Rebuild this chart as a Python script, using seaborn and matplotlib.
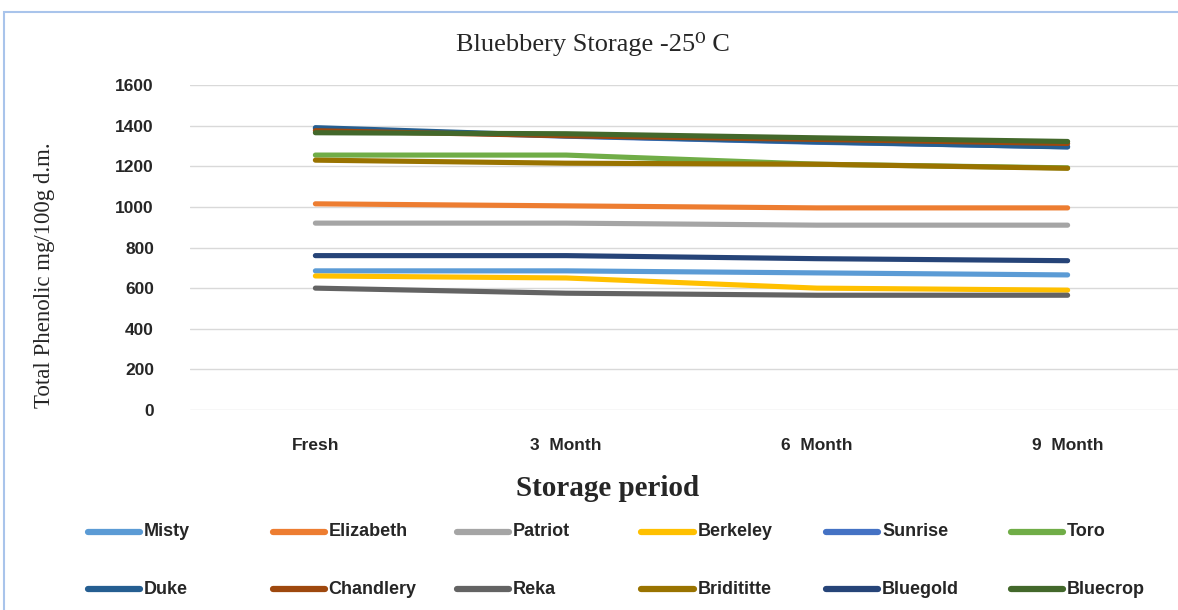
import matplotlib
matplotlib.use("Agg")
import matplotlib.pyplot as plt
from matplotlib.patches import Rectangle
from matplotlib.lines import Line2D
import seaborn as sns
import pandas as pd

periods = ["Fresh", "3  Month", "6  Month", "9  Month"]
cultivars = ["Misty", "Elizabeth", "Patriot", "Berkeley", "Sunrise", "Toro",
             "Duke", "Chandlery", "Reka", "Bridititte", "Bluegold", "Bluecrop"]

misty = [685, 685, 675, 665]
elizabeth = [1015, 1005, 995, 995]
patriot = [920, 920, 910, 910]
berkeley = [660, 650, 600, 590]
sunrise = [1385, 1348, 1318, 1296]
toro = [1255, 1255, 1210, 1192]
duke = [1390, 1350, 1320, 1295]
chandlery = [1375, 1350, 1332, 1312]
reka = [600, 575, 565, 565]
bridititte = [1230, 1215, 1210, 1190]
bluegold = [760, 760, 745, 735]
bluecrop = [1365, 1360, 1340, 1322]

series = [misty, elizabeth, patriot, berkeley, sunrise, toro,
          duke, chandlery, reka, bridititte, bluegold, bluecrop]

colors = ["#5B9BD5", "#ED7D31", "#A5A5A5", "#FFC000", "#4472C4", "#70AD47",
          "#255E91", "#9E480E", "#636363", "#997300", "#264478", "#43682B"]

rows = []
for name, vals in zip(cultivars, series):
    for p, v in zip(periods, vals):
        rows.append({"Cultivar": name, "Period": p, "Value": v})
df = pd.DataFrame(rows)

sns.set_style("white")
plt.rcParams["font.family"] = ["DejaVu Sans"]
serif = ["Liberation Serif", "DejaVu Serif"]

fig = plt.figure(figsize=(11.78, 6.10), dpi=100)
W, H = 1178, 610

# chart frame
fig.patches.append(Rectangle((4 / W, -0.1), 1.2, (610 - 12) / H + 0.1,
                             transform=fig.transFigure, fill=False,
                             edgecolor="#A9C4EB", linewidth=1.5))

ax = fig.add_axes([190 / W, (H - 410) / H, (1193 - 190) / W, (410 - 85) / H])
sns.lineplot(data=df, x="Period", y="Value", hue="Cultivar",
             hue_order=cultivars, palette=colors, sort=False,
             linewidth=3.7, ax=ax, legend=False,
             solid_capstyle="round", solid_joinstyle="round")

ax.set_xlim(-0.5, 3.5)
ax.set_ylim(0, 1600)
ax.set_yticks(range(0, 1601, 200))
ax.yaxis.grid(True, color="#D9D9D9", linewidth=1)
ax.xaxis.grid(False)
for s in ax.spines.values():
    s.set_visible(False)
ax.tick_params(axis="both", length=0)
ax.tick_params(axis="y", pad=26)
ax.tick_params(axis="x", pad=20)
for lab in ax.get_yticklabels() + ax.get_xticklabels():
    lab.set_fontweight("bold")
    lab.set_fontsize(12.5)
    lab.set_fontfamily("Liberation Sans")
ax.set_xlabel("")
ax.set_ylabel("")

fig.text(593 / W, (H - 44) / H, "Bluebbery Storage -25\u2070 C", ha="center",
         va="center", fontsize=19, family=serif)
fig.text(608 / W, (H - 488) / H, "Storage period", ha="center", va="center",
         fontsize=21, fontweight="bold", family=serif)
fig.text(45 / W, (H - 275) / H, "Total Phenolic mg/100g d.m.", ha="center",
         va="center", rotation=90, fontsize=16.5, family=serif)

# legend, two rows of six
for i, (name, c) in enumerate(zip(cultivars, colors)):
    col, row = i % 6, i // 6
    x0 = 88 + col * 184.5
    y0 = 532 + row * 57
    fig.lines.append(Line2D([x0 / W, (x0 + 52) / W], [(H - y0) / H] * 2,
                            transform=fig.transFigure, color=c, linewidth=4.5,
                            solid_capstyle="round"))
    fig.text((x0 + 56) / W, (H - y0) / H, name, ha="left", va="center",
             fontsize=13, fontweight="bold", family="Liberation Sans")

fig.savefig("out.png", dpi=100)
